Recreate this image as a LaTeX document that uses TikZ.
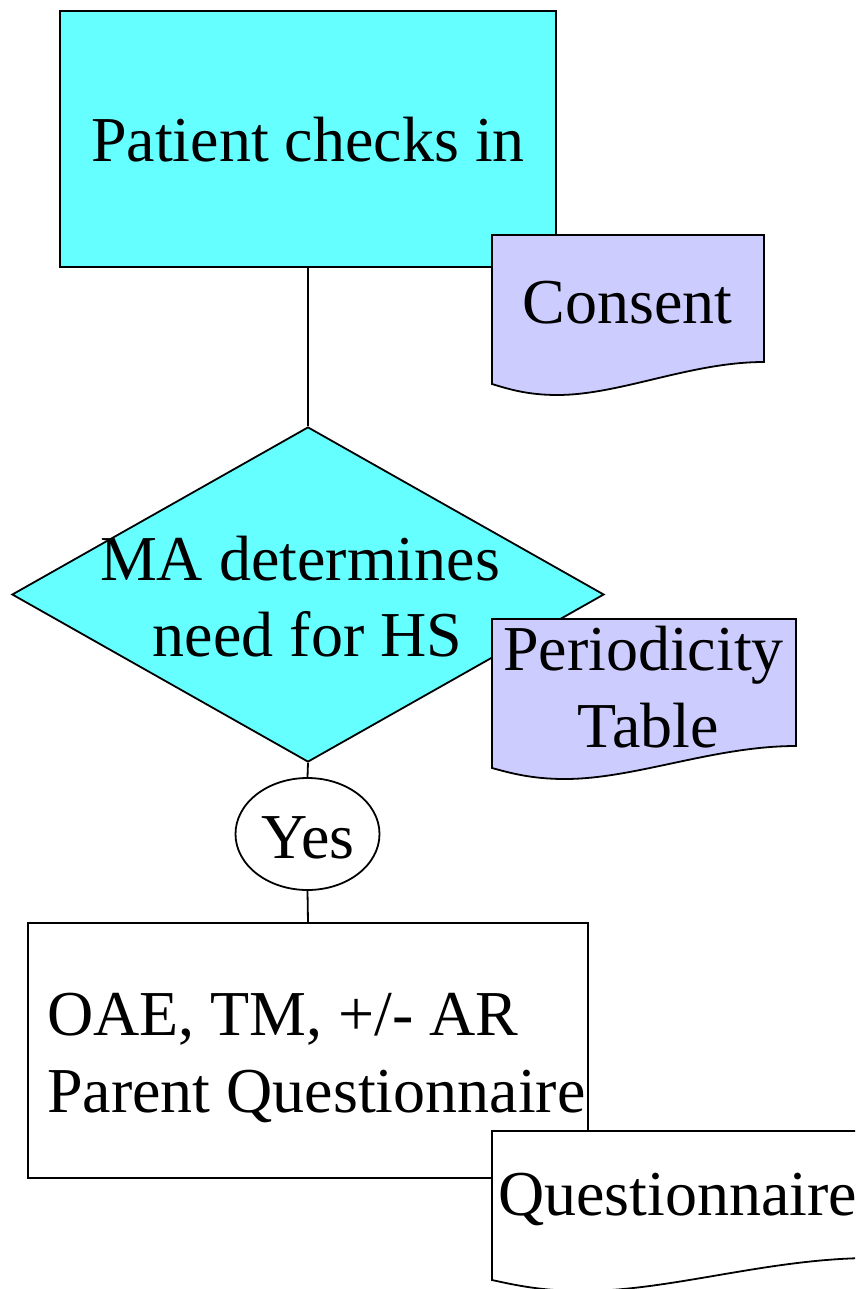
\documentclass[tikz,border=0pt]{standalone}
\usepackage{fontspec}
\setmainfont{Liberation Serif}
\usetikzlibrary{shapes.geometric}
\definecolor{procfill}{HTML}{66FFFF}
\definecolor{docfill}{HTML}{CCCCFF}
\tikzset{
  flow/.style={draw=black, line width=1.8pt},
  link/.style={draw=black, line width=1.8pt},
  lbl/.style={inner sep=0pt, outer sep=0pt, font=\rmfamily\fontsize{64}{76}\selectfont, anchor=base},
  lblw/.style={lbl, anchor=base west},
}
% document symbol: fill, left x, top y, width, height of the right edge
\newcommand{\docsymbol}[5]{%
  \filldraw[flow, fill=#1, line join=miter]
    (#2,#3) -- ({#2+#4},#3) -- ({#2+#4},{#3+#5})
    .. controls ({#2+0.73*#4},{#3+#5}) and ({#2+0.47*#4},{#3+#5+33}) .. ({#2+0.24*#4},{#3+#5+33})
    .. controls ({#2+0.13*#4},{#3+#5+33}) and ({#2+0.06*#4},{#3+#5+27}) .. (#2,{#3+#5+22})
    -- cycle;%
}
\begin{document}
\begin{tikzpicture}[x=1pt, y=-1pt]
  \useasboundingbox (0,0) rectangle (855,1289);
  \clip (0,0) rectangle (855,1289);

  % check-in step and its consent form
  \node[flow, fill=procfill, rectangle, minimum width=496pt, minimum height=256pt, inner sep=0pt]
    (checkin) at (308,139) {};
  \node[lbl] (checkintxt) at (308,162) {Patient checks in};
  \docsymbol{docfill}{492}{235}{272}{127}
  \node[lbl] (consent) at (627.5,323) {Consent};

  % decision and its periodicity table
  \node[flow, fill=procfill, diamond, minimum width=592pt, minimum height=335pt, inner sep=0pt]
    (decide) at (308,594.5) {};
  \node[lbl] (decidetxta) at (300,580) {MA determines};
  \node[lbl] (decidetxtb) at (307.5,656) {need for HS};
  \docsymbol{docfill}{492}{619}{304}{127}
  \node[lbl] (periodtxta) at (643.5,670) {Periodicity};
  \node[lbl] (periodtxtb) at (648,747) {Table};

  % answer
  \node[flow, fill=white, ellipse, minimum width=144pt, minimum height=112pt, inner sep=0pt]
    (yes) at (307.5,834) {};
  \node[lbl] (yestxt) at (308,858) {Yes};

  % screening step and its questionnaire
  \node[flow, fill=white, rectangle, minimum width=560pt, minimum height=255pt, inner sep=0pt]
    (screen) at (308,1050.5) {};
  \node[lblw] (screentxta) at (47,1035) {OAE, TM, +/- AR};
  \node[lblw] (screentxtb) at (47,1112) {Parent Questionnaire};
  \docsymbol{white}{492}{1131}{380}{127}
  \node[lblw] (questtxt) at (498,1215) {Questionnaire};

  % connectors
  \draw[link] (checkin.south) -- (decide.north);
  \draw[link] (decide.south) -- (yes.north);
  \draw[link] (yes.south) -- (screen.north);
\end{tikzpicture}
\end{document}
